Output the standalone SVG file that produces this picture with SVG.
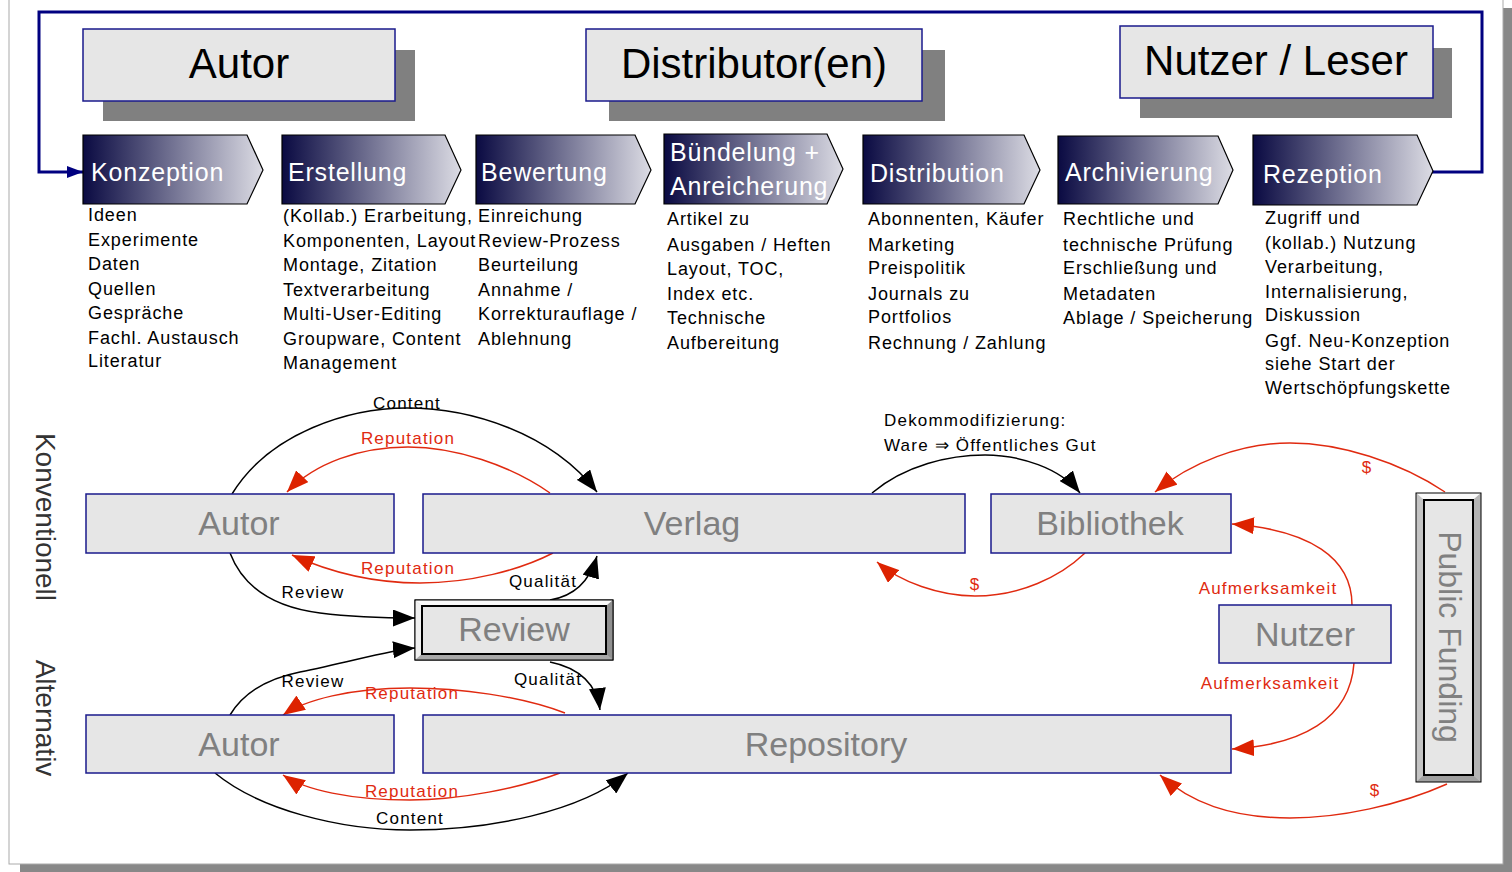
<svg xmlns="http://www.w3.org/2000/svg" width="1512" height="872" viewBox="0 0 1512 872">
<style>
.hdr{fill:#e6e6e6;stroke:#1a1a8c;stroke-width:1.5}
.shd{fill:#808080}
.htx{font-family:"Liberation Sans",Arial,sans-serif;font-size:42px;fill:#000;text-anchor:middle}
.chev{fill:url(#g);stroke:#000;stroke-width:1.2}
.ctx{font-family:"Liberation Sans",Arial,sans-serif;font-size:25px;fill:#fff;letter-spacing:0.8px}
.col{font-family:"Liberation Sans",Arial,sans-serif;font-size:18px;fill:#000;letter-spacing:0.9px}
.box{fill:#e6e6e6;stroke:#1a1a8c;stroke-width:1.5}
.ntx{font-family:"Liberation Sans",Arial,sans-serif;font-size:34px;fill:#808080;text-anchor:middle}
.side{font-family:"Liberation Sans",Arial,sans-serif;font-size:28px;fill:#333;text-anchor:middle}
.lb{font-family:"Liberation Sans",Arial,sans-serif;font-size:17px;fill:#000;text-anchor:middle;letter-spacing:1.2px}
.lr{font-family:"Liberation Sans",Arial,sans-serif;font-size:17px;fill:#e02a10;text-anchor:middle;letter-spacing:1.2px}
.cb{fill:none;stroke:#000;stroke-width:1.5;marker-end:url(#ab)}
.cr{fill:none;stroke:#e02a10;stroke-width:1.5;marker-end:url(#ar)}
</style>
<defs>
<linearGradient id="g" x1="0" y1="0" x2="1" y2="0">
<stop offset="0" stop-color="#0a0a42"/>
<stop offset="1" stop-color="#dcdce4"/>
</linearGradient>
<marker id="ab" markerWidth="22" markerHeight="17" refX="22" refY="8.5" orient="auto" markerUnits="userSpaceOnUse"><path d="M0,0 L22,8.5 L0,17 z" fill="#000"/></marker>
<marker id="ar" markerWidth="22" markerHeight="17" refX="22" refY="8.5" orient="auto" markerUnits="userSpaceOnUse"><path d="M0,0 L22,8.5 L0,17 z" fill="#dd2200"/></marker>
<marker id="au" markerWidth="16" markerHeight="12" refX="16" refY="6" orient="auto" markerUnits="userSpaceOnUse"><path d="M0,0 L16,6 L0,12 z" fill="#000080"/></marker>
</defs>

<g id="page">
<rect x="20" y="8" width="1492" height="864" fill="#888"/>
<rect x="9" y="-2" width="1494" height="866" fill="#fff" stroke="#aaa" stroke-width="1"/>
</g>

<g id="loop">
<path d="M1432,172 L1482,172 L1482,12 L39,12 L39,172 L83,172" fill="none" stroke="#000080" stroke-width="3" marker-end="url(#au)"/>
</g>

<g id="hdr-autor">
<rect class="shd" x="103" y="50" width="312" height="71"/>
<rect class="hdr" x="83" y="29" width="312" height="72"/>
<text class="htx" x="239" y="78">Autor</text>
</g>
<g id="hdr-distributor">
<rect class="shd" x="609" y="50" width="336" height="71"/>
<rect class="hdr" x="586" y="29" width="336" height="72"/>
<text class="htx" x="754" y="78">Distributor(en)</text>
</g>
<g id="hdr-nutzer">
<rect class="shd" x="1140" y="48" width="312" height="70"/>
<rect class="hdr" x="1120" y="26" width="313" height="72"/>
<text class="htx" x="1276" y="75">Nutzer / Leser</text>
</g>

<g id="p-konzeption">
<path class="chev" d="M83,135 L247,135 L263,170 L247,204 L83,204 z"/>
<text class="ctx" x="91" y="181">Konzeption</text>
</g>
<g id="p-erstellung">
<path class="chev" d="M282,135 L445,135 L461,170 L445,204 L282,204 z"/>
<text class="ctx" x="288" y="181">Erstellung</text>
</g>
<g id="p-bewertung">
<path class="chev" d="M476,135 L635,135 L651,170 L635,204 L476,204 z"/>
<text class="ctx" x="481" y="181">Bewertung</text>
</g>
<g id="p-buendelung">
<path class="chev" d="M664,134 L827,134 L843,169 L827,204 L664,204 z"/>
<text class="ctx" x="670" y="161">Bündelung +</text>
<text class="ctx" x="670" y="195">Anreicherung</text>
</g>
<g id="p-distribution">
<path class="chev" d="M863,135 L1024,135 L1040,170 L1024,204 L863,204 z"/>
<text class="ctx" x="870" y="182">Distribution</text>
</g>
<g id="p-archivierung">
<path class="chev" d="M1058,136 L1218,136 L1233,170 L1218,204 L1058,204 z"/>
<text class="ctx" x="1065" y="181">Archivierung</text>
</g>
<g id="p-rezeption">
<path class="chev" d="M1253,135 L1417,135 L1433,171 L1417,205 L1253,205 z"/>
<text class="ctx" x="1263" y="183">Rezeption</text>
</g>

<g id="col1" class="col">
<text x="88" y="221">Ideen</text>
<text x="88" y="246">Experimente</text>
<text x="88" y="270">Daten</text>
<text x="88" y="295">Quellen</text>
<text x="88" y="319">Gespräche</text>
<text x="88" y="344">Fachl. Austausch</text>
<text x="88" y="367">Literatur</text>
</g>
<g id="col2" class="col">
<text x="283" y="222">(Kollab.) Erarbeitung,</text>
<text x="283" y="247">Komponenten, Layout</text>
<text x="283" y="271">Montage, Zitation</text>
<text x="283" y="296">Textverarbeitung</text>
<text x="283" y="320">Multi-User-Editing</text>
<text x="283" y="345">Groupware, Content</text>
<text x="283" y="369">Management</text>
</g>
<g id="col3" class="col">
<text x="478" y="222">Einreichung</text>
<text x="478" y="247">Review-Prozess</text>
<text x="478" y="271">Beurteilung</text>
<text x="478" y="296">Annahme /</text>
<text x="478" y="320">Korrekturauflage /</text>
<text x="478" y="345">Ablehnung</text>
</g>
<g id="col4" class="col">
<text x="667" y="225">Artikel zu</text>
<text x="667" y="251">Ausgaben / Heften</text>
<text x="667" y="275">Layout, TOC,</text>
<text x="667" y="300">Index etc.</text>
<text x="667" y="324">Technische</text>
<text x="667" y="349">Aufbereitung</text>
</g>
<g id="col5" class="col">
<text x="868" y="225">Abonnenten, Käufer</text>
<text x="868" y="251">Marketing</text>
<text x="868" y="274">Preispolitik</text>
<text x="868" y="300">Journals zu</text>
<text x="868" y="323">Portfolios</text>
<text x="868" y="349">Rechnung / Zahlung</text>
</g>
<g id="col6" class="col">
<text x="1063" y="225">Rechtliche und</text>
<text x="1063" y="251">technische Prüfung</text>
<text x="1063" y="274">Erschließung und</text>
<text x="1063" y="300">Metadaten</text>
<text x="1063" y="324">Ablage / Speicherung</text>
</g>
<g id="col7" class="col">
<text x="1265" y="224">Zugriff und</text>
<text x="1265" y="249">(kollab.) Nutzung</text>
<text x="1265" y="273">Verarbeitung,</text>
<text x="1265" y="298">Internalisierung,</text>
<text x="1265" y="321">Diskussion</text>
<text x="1265" y="347">Ggf. Neu-Konzeption</text>
<text x="1265" y="370">siehe Start der</text>
<text x="1265" y="394">Wertschöpfungskette</text>
</g>

<g id="side-labels">
<text class="side" transform="translate(36,517) rotate(90)">Konventionell</text>
<text class="side" transform="translate(36,718) rotate(90)">Alternativ</text>
</g>

<g id="connectors">
<path class="cb" d="M232,494 C270,432 350,408 407,408 C470,408 550,432 597,492"/>
<path class="cr" d="M550,493 C510,465 455,447 408,447 C360,447 315,463 287,492"/>
<path class="cr" d="M553,553 C520,570 470,583 420,583 C370,583 325,570 292,555"/>
<path class="cb" d="M230,553 C245,592 280,608 320,613 C360,618 390,618 415,618"/>
<path class="cb" d="M550,600 C575,596 590,580 597,556"/>
<path class="cb" d="M872,493 C905,465 950,455 985,455 C1020,455 1060,468 1080,493"/>
<path class="cr" d="M1085,553 C1060,577 1020,596 975,596 C940,596 900,582 877,562"/>
<path class="cr" d="M1445,492 C1400,462 1340,443 1290,443 C1240,443 1190,463 1155,492"/>
<path class="cr" d="M1352,605 C1352,558 1310,530 1232,524"/>
<path class="cr" d="M1354,663 C1350,720 1300,745 1232,749"/>
<path class="cr" d="M1447,784 C1400,805 1340,818 1290,818 C1230,818 1190,802 1160,775"/>
<path class="cb" d="M230,715 C245,690 270,678 300,672 C350,662 390,650 415,648"/>
<path class="cb" d="M550,662 C580,668 597,685 600,710"/>
<path class="cr" d="M565,713 C520,696 460,688 410,688 C350,688 305,700 283,715"/>
<path class="cr" d="M560,773 C520,788 460,800 410,800 C350,800 305,790 283,775"/>
<path class="cb" d="M215,773 C260,810 340,830 410,830 C490,830 580,812 628,773"/>
</g>

<g id="connector-labels">
<text class="lb" x="407" y="409">Content</text>
<text class="lr" x="408" y="444">Reputation</text>
<text class="lr" x="408" y="574">Reputation</text>
<text class="lb" x="313" y="598">Review</text>
<text class="lb" x="543" y="587">Qualität</text>
<text class="lb" x="884" y="426" style="text-anchor:start">Dekommodifizierung:</text>
<text class="lb" x="884" y="451" style="text-anchor:start">Ware ⇒ Öffentliches Gut</text>
<text class="lr" x="975" y="590">$</text>
<text class="lr" x="1367" y="473">$</text>
<text class="lr" x="1268" y="594">Aufmerksamkeit</text>
<text class="lr" x="1270" y="689">Aufmerksamkeit</text>
<text class="lr" x="1375" y="796">$</text>
<text class="lb" x="313" y="687">Review</text>
<text class="lb" x="548" y="685">Qualität</text>
<text class="lr" x="412" y="699">Reputation</text>
<text class="lr" x="412" y="797">Reputation</text>
<text class="lb" x="410" y="824">Content</text>
</g>

<g id="n-autor-konv">
<rect class="box" x="86" y="494" width="308" height="59"/>
<text class="ntx" x="239" y="535">Autor</text>
</g>
<g id="n-verlag">
<rect class="box" x="423" y="494" width="542" height="59"/>
<text class="ntx" x="692" y="535">Verlag</text>
</g>
<g id="n-bibliothek">
<rect class="box" x="991" y="494" width="240" height="59"/>
<text class="ntx" x="1110" y="535">Bibliothek</text>
</g>
<g id="n-review">
<rect x="415" y="600" width="198" height="60" fill="#c8c8c8" stroke="#000" stroke-width="1"/>
<path d="M415,600 L613,600 L606,606 L422,606 z" fill="#fafafa"/>
<path d="M415,600 L422,606 L422,654 L415,660 z" fill="#f0f0f0"/>
<path d="M415,660 L422,654 L606,654 L613,660 z" fill="#a8a8a8"/>
<path d="M613,600 L606,606 L606,654 L613,660 z" fill="#909090"/>
<rect x="415" y="600" width="198" height="60" fill="none" stroke="#000" stroke-width="1"/>
<rect x="422" y="606" width="184" height="48" fill="#e6e6e6" stroke="#000" stroke-width="2"/>
<text class="ntx" x="514" y="641">Review</text>
</g>
<g id="n-nutzer">
<rect class="box" x="1219" y="605" width="172" height="58"/>
<text class="ntx" x="1305" y="646">Nutzer</text>
</g>
<g id="n-autor-alt">
<rect class="box" x="86" y="715" width="308" height="58"/>
<text class="ntx" x="239" y="756">Autor</text>
</g>
<g id="n-repository">
<rect class="box" x="423" y="715" width="808" height="58"/>
<text class="ntx" x="826" y="756">Repository</text>
</g>
<g id="n-public-funding">
<rect x="1416" y="493" width="65" height="289" fill="#c8c8c8"/>
<path d="M1416,493 L1481,493 L1473,500 L1424,500 z" fill="#fafafa"/>
<path d="M1416,493 L1424,500 L1424,775 L1416,782 z" fill="#c4c4c4"/>
<path d="M1416,782 L1424,775 L1473,775 L1481,782 z" fill="#a0a0a0"/>
<path d="M1481,493 L1473,500 L1473,775 L1481,782 z" fill="#b4b4b4"/>
<rect x="1416" y="493" width="65" height="289" fill="none" stroke="#000" stroke-width="1"/>
<rect x="1424" y="500" width="49" height="275" fill="#e6e6e6" stroke="#000" stroke-width="2"/>
<text class="ntx" style="font-size:32px" transform="translate(1439,637) rotate(90)">Public Funding</text>
</g>
</svg>
